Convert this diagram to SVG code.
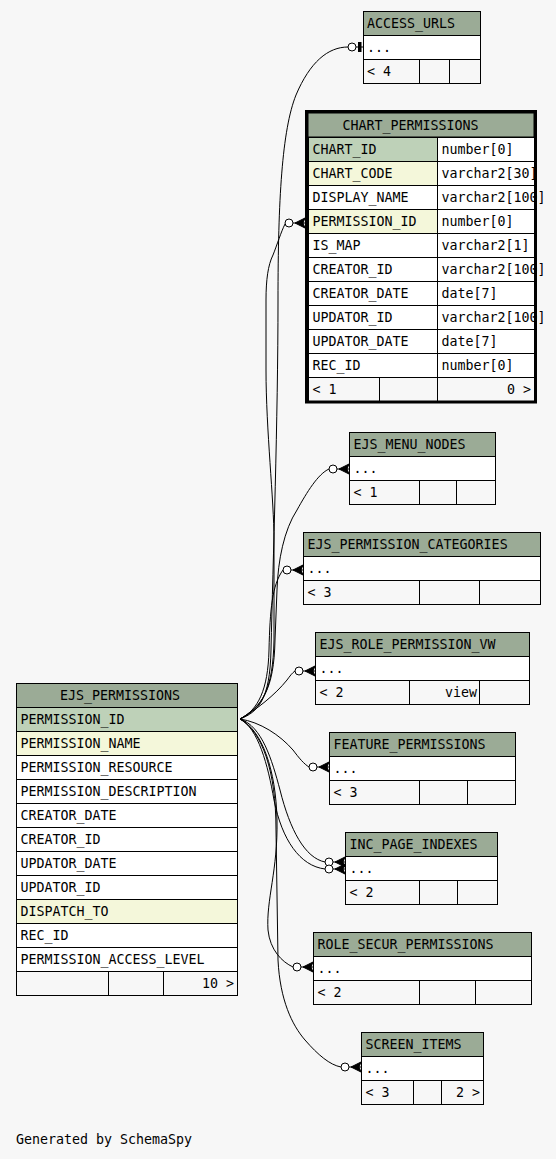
<svg xmlns="http://www.w3.org/2000/svg" xmlns:xlink="http://www.w3.org/1999/xlink" width="556" height="1159" viewBox="0 0 556 1159">
<style>
.t{font-family:"DejaVu Sans Mono","Liberation Mono",monospace;font-size:13.3px;fill:#000}
.r{text-anchor:end}
.h{fill:#9bab96;stroke:#000;stroke-width:1}
.pk{fill:#bed1b8;stroke:#000;stroke-width:1}
.ix{fill:#f4f7da;stroke:#000;stroke-width:1}
.b{fill:#fff;stroke:#000;stroke-width:1}
.f{fill:#f7f7f7;stroke:#000;stroke-width:1}
.e{fill:none;stroke:#000;stroke-width:1}
</style>
<defs>
<g id="crow">
<line x1="-12" y1="0" x2="0" y2="0" stroke="#000" stroke-width="1"/>
<circle cx="-16" cy="0" r="4" fill="#fff" stroke="#000" stroke-width="1"/>
<polygon points="-10,0 0,-5 -2,0 0,5" fill="#000" stroke="#000" stroke-width="1"/>
</g>
</defs>
<rect x="0" y="0" width="556" height="1159" fill="#f7f7f7"/>

<g id="connectors">
<path class="e" d="M240,719 C258,712 270,700 271,650 C273,560 278,420 278,300 C278,200 282,130 296,95 C310,62 328,47 348,47"/>
<line x1="356" y1="47" x2="363" y2="47" stroke="#000"/>
<circle cx="352" cy="47" r="4" fill="#fff" stroke="#000"/>
<rect x="358" y="42" width="3.5" height="10" fill="#000"/>
<path class="e" d="M240,719 C262,708 273,690 274,640 L274,540 C274,500 266,430 266,370 L266,300 C266,280 268,265 273,255 C277,245 281,232 285,224"/>
<use xlink:href="#crow" x="305" y="223"/>
<path class="e" d="M240,719 C262,706 274,690 275,640 L277,590 C278,560 284,530 297,510 C307,492 318,474 329,469"/>
<use xlink:href="#crow" x="349" y="469"/>
<path class="e" d="M240,719 C258,710 268,690 269,650 C270,610 272,585 283,570"/>
<use xlink:href="#crow" x="303" y="570"/>
<path class="e" d="M240,719 C256,710 275,695 287,680 C290,676 292,673 295,671"/>
<use xlink:href="#crow" x="315" y="671"/>
<path class="e" d="M240,719 C260,722 280,735 293,750 C299,758 304,764 309,767"/>
<use xlink:href="#crow" x="329" y="767"/>
<path class="e" d="M240,719 C262,726 272,760 280,790 C290,830 305,858 325,862"/>
<use xlink:href="#crow" x="345" y="862"/>
<path class="e" d="M240,719 C258,728 268,765 274,800 C282,840 300,866 325,869"/>
<use xlink:href="#crow" x="345" y="869"/>
<path class="e" d="M240,719 C262,730 276,770 277,820 C278,870 266,900 268,930 C270,950 282,962 293,967"/>
<use xlink:href="#crow" x="313" y="967"/>
<path class="e" d="M240,719 C262,732 276,770 276,830 L278,960 C280,1000 292,1025 305,1040 C318,1055 330,1065 341,1067"/>
<use xlink:href="#crow" x="361" y="1067"/>
</g>

<g id="ACCESS_URLS">
<rect class="h" x="363.5" y="11.5" width="117" height="24"/>
<rect class="b" x="363.5" y="35.5" width="117" height="24"/>
<rect class="f" x="363.5" y="59.5" width="56" height="24"/>
<rect class="f" x="419.5" y="59.5" width="30" height="24"/>
<rect class="f" x="449.5" y="59.5" width="31" height="24"/>
<text class="t" x="367" y="27.5">ACCESS_URLS</text>
<text class="t" x="367" y="51.5">...</text>
<text class="t" x="367" y="75.5">&lt; 4</text>
</g>

<g id="CHART_PERMISSIONS">
<rect class="h" x="308" y="113" width="226" height="24"/>
<rect class="pk" x="308.5" y="137.5" width="129" height="24"/><rect class="b" x="437.5" y="137.5" width="97" height="24"/>
<rect class="ix" x="308.5" y="161.5" width="129" height="24"/><rect class="b" x="437.5" y="161.5" width="97" height="24"/>
<rect class="b" x="308.5" y="185.5" width="129" height="24"/><rect class="b" x="437.5" y="185.5" width="97" height="24"/>
<rect class="ix" x="308.5" y="209.5" width="129" height="24"/><rect class="b" x="437.5" y="209.5" width="97" height="24"/>
<rect class="b" x="308.5" y="233.5" width="129" height="24"/><rect class="b" x="437.5" y="233.5" width="97" height="24"/>
<rect class="b" x="308.5" y="257.5" width="129" height="24"/><rect class="b" x="437.5" y="257.5" width="97" height="24"/>
<rect class="b" x="308.5" y="281.5" width="129" height="24"/><rect class="b" x="437.5" y="281.5" width="97" height="24"/>
<rect class="b" x="308.5" y="305.5" width="129" height="24"/><rect class="b" x="437.5" y="305.5" width="97" height="24"/>
<rect class="b" x="308.5" y="329.5" width="129" height="24"/><rect class="b" x="437.5" y="329.5" width="97" height="24"/>
<rect class="b" x="308.5" y="353.5" width="129" height="24"/><rect class="b" x="437.5" y="353.5" width="97" height="24"/>
<rect class="f" x="308.5" y="377.5" width="71" height="24"/><rect class="f" x="379.5" y="377.5" width="58" height="24"/><rect class="f" x="437.5" y="377.5" width="97" height="24"/>
<text class="t" x="342.5" y="129.5">CHART_PERMISSIONS</text>
<text class="t" x="312.5" y="153.5">CHART_ID</text><text class="t" x="441.5" y="153.5">number[0]</text>
<text class="t" x="312.5" y="177.5">CHART_CODE</text><text class="t" x="441.5" y="177.5">varchar2[30]</text>
<text class="t" x="312.5" y="201.5">DISPLAY_NAME</text><text class="t" x="441.5" y="201.5">varchar2[100]</text>
<text class="t" x="312.5" y="225.5">PERMISSION_ID</text><text class="t" x="441.5" y="225.5">number[0]</text>
<text class="t" x="312.5" y="249.5">IS_MAP</text><text class="t" x="441.5" y="249.5">varchar2[1]</text>
<text class="t" x="312.5" y="273.5">CREATOR_ID</text><text class="t" x="441.5" y="273.5">varchar2[100]</text>
<text class="t" x="312.5" y="297.5">CREATOR_DATE</text><text class="t" x="441.5" y="297.5">date[7]</text>
<text class="t" x="312.5" y="321.5">UPDATOR_ID</text><text class="t" x="441.5" y="321.5">varchar2[100]</text>
<text class="t" x="312.5" y="345.5">UPDATOR_DATE</text><text class="t" x="441.5" y="345.5">date[7]</text>
<text class="t" x="312.5" y="369.5">REC_ID</text><text class="t" x="441.5" y="369.5">number[0]</text>
<text class="t" x="312.5" y="393.5">&lt; 1</text><text class="t r" x="531" y="393.5">0 &gt;</text>
<rect x="306.5" y="111.5" width="229" height="290.5" fill="none" stroke="#000" stroke-width="3"/>
</g>

<g id="EJS_MENU_NODES">
<rect class="h" x="349.5" y="432.5" width="146" height="24"/>
<rect class="b" x="349.5" y="456.5" width="146" height="24"/>
<rect class="f" x="349.5" y="480.5" width="70" height="24"/>
<rect class="f" x="419.5" y="480.5" width="37" height="24"/>
<rect class="f" x="456.5" y="480.5" width="39" height="24"/>
<text class="t" x="353.5" y="448.5">EJS_MENU_NODES</text>
<text class="t" x="353.5" y="472.5">...</text>
<text class="t" x="353.5" y="496.5">&lt; 1</text>
</g>

<g id="EJS_PERMISSION_CATEGORIES">
<rect class="h" x="303.5" y="532.5" width="237" height="24"/>
<rect class="b" x="303.5" y="556.5" width="237" height="24"/>
<rect class="f" x="303.5" y="580.5" width="116" height="24"/>
<rect class="f" x="419.5" y="580.5" width="60" height="24"/>
<rect class="f" x="479.5" y="580.5" width="61" height="24"/>
<text class="t" x="307.5" y="548.5">EJS_PERMISSION_CATEGORIES</text>
<text class="t" x="307.5" y="572.5">...</text>
<text class="t" x="307.5" y="596.5">&lt; 3</text>
</g>

<g id="EJS_ROLE_PERMISSION_VW">
<rect class="h" x="315.5" y="632.5" width="214" height="24"/>
<rect class="b" x="315.5" y="656.5" width="214" height="24"/>
<rect class="f" x="315.5" y="680.5" width="94" height="24"/>
<rect class="f" x="409.5" y="680.5" width="70" height="24"/>
<rect class="f" x="479.5" y="680.5" width="50" height="24"/>
<text class="t" x="319.5" y="648.5">EJS_ROLE_PERMISSION_VW</text>
<text class="t" x="319.5" y="672.5">...</text>
<text class="t" x="319.5" y="696.5">&lt; 2</text>
<text class="t r" x="477" y="696.5">view</text>
</g>

<g id="FEATURE_PERMISSIONS">
<rect class="h" x="329.5" y="732.5" width="186" height="24"/>
<rect class="b" x="329.5" y="756.5" width="186" height="24"/>
<rect class="f" x="329.5" y="780.5" width="90" height="24"/>
<rect class="f" x="419.5" y="780.5" width="48" height="24"/>
<rect class="f" x="467.5" y="780.5" width="48" height="24"/>
<text class="t" x="333.5" y="748.5">FEATURE_PERMISSIONS</text>
<text class="t" x="333.5" y="772.5">...</text>
<text class="t" x="333.5" y="796.5">&lt; 3</text>
</g>

<g id="INC_PAGE_INDEXES">
<rect class="h" x="345.5" y="832.5" width="152" height="24"/>
<rect class="b" x="345.5" y="856.5" width="152" height="24"/>
<rect class="f" x="345.5" y="880.5" width="74" height="24"/>
<rect class="f" x="419.5" y="880.5" width="38" height="24"/>
<rect class="f" x="457.5" y="880.5" width="40" height="24"/>
<text class="t" x="349.5" y="848.5">INC_PAGE_INDEXES</text>
<text class="t" x="349.5" y="872.5">...</text>
<text class="t" x="349.5" y="896.5">&lt; 2</text>
</g>

<g id="ROLE_SECUR_PERMISSIONS">
<rect class="h" x="313.5" y="932.5" width="218" height="24"/>
<rect class="b" x="313.5" y="956.5" width="218" height="24"/>
<rect class="f" x="313.5" y="980.5" width="106" height="24"/>
<rect class="f" x="419.5" y="980.5" width="56" height="24"/>
<rect class="f" x="475.5" y="980.5" width="56" height="24"/>
<text class="t" x="317.5" y="948.5">ROLE_SECUR_PERMISSIONS</text>
<text class="t" x="317.5" y="972.5">...</text>
<text class="t" x="317.5" y="996.5">&lt; 2</text>
</g>

<g id="SCREEN_ITEMS">
<rect class="h" x="361.5" y="1032.5" width="122" height="24"/>
<rect class="b" x="361.5" y="1056.5" width="122" height="24"/>
<rect class="f" x="361.5" y="1080.5" width="52" height="24"/>
<rect class="f" x="413.5" y="1080.5" width="28" height="24"/>
<rect class="f" x="441.5" y="1080.5" width="42" height="24"/>
<text class="t" x="365.5" y="1048.5">SCREEN_ITEMS</text>
<text class="t" x="365.5" y="1072.5">...</text>
<text class="t" x="365.5" y="1096.5">&lt; 3</text>
<text class="t r" x="480" y="1096.5">2 &gt;</text>
</g>

<g id="EJS_PERMISSIONS">
<rect class="h" x="16.5" y="683.5" width="221" height="24"/>
<rect class="pk" x="16.5" y="707.5" width="221" height="24"/>
<rect class="ix" x="16.5" y="731.5" width="221" height="24"/>
<rect class="b" x="16.5" y="755.5" width="221" height="24"/>
<rect class="b" x="16.5" y="779.5" width="221" height="24"/>
<rect class="b" x="16.5" y="803.5" width="221" height="24"/>
<rect class="b" x="16.5" y="827.5" width="221" height="24"/>
<rect class="b" x="16.5" y="851.5" width="221" height="24"/>
<rect class="b" x="16.5" y="875.5" width="221" height="24"/>
<rect class="ix" x="16.5" y="899.5" width="221" height="24"/>
<rect class="b" x="16.5" y="923.5" width="221" height="24"/>
<rect class="b" x="16.5" y="947.5" width="221" height="24"/>
<rect class="f" x="16.5" y="971.5" width="92" height="24"/>
<rect class="f" x="108.5" y="971.5" width="55" height="24"/>
<rect class="f" x="163.5" y="971.5" width="74" height="24"/>
<text class="t" x="60" y="699.5">EJS_PERMISSIONS</text>
<text class="t" x="20.5" y="723.5">PERMISSION_ID</text>
<text class="t" x="20.5" y="747.5">PERMISSION_NAME</text>
<text class="t" x="20.5" y="771.5">PERMISSION_RESOURCE</text>
<text class="t" x="20.5" y="795.5">PERMISSION_DESCRIPTION</text>
<text class="t" x="20.5" y="819.5">CREATOR_DATE</text>
<text class="t" x="20.5" y="843.5">CREATOR_ID</text>
<text class="t" x="20.5" y="867.5">UPDATOR_DATE</text>
<text class="t" x="20.5" y="891.5">UPDATOR_ID</text>
<text class="t" x="20.5" y="915.5">DISPATCH_TO</text>
<text class="t" x="20.5" y="939.5">REC_ID</text>
<text class="t" x="20.5" y="963.5">PERMISSION_ACCESS_LEVEL</text>
<text class="t r" x="234" y="987.5">10 &gt;</text>
</g>

<text class="t" x="16" y="1144">Generated by SchemaSpy</text>
</svg>
